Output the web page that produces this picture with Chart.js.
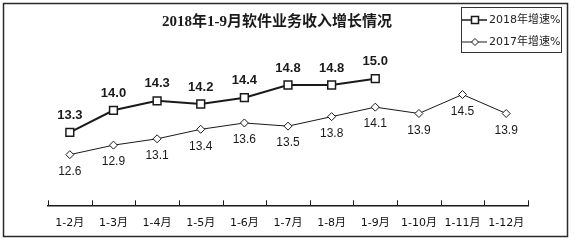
<!DOCTYPE html>
<html>
<head>
<meta charset="utf-8">
<script src="https://cdn.jsdelivr.net/npm/chart.js@4/dist/chart.umd.min.js"></script>
<style>
  html, body { margin: 0; padding: 0; background: #fff; }
  #wrap { position: relative; width: 576px; height: 244px; }
</style>
</head>
<body>
<div id="wrap"><canvas id="c" width="576" height="244"></canvas></div>
<script>
// values
const chartTitle = '2018年1-9月软件业务收入增长情况';
const categories = ['1-2月', '1-3月', '1-4月', '1-5月', '1-6月', '1-7月', '1-8月', '1-9月', '1-10月', '1-11月', '1-12月'];
const seriesNames = ['2018年增速%', '2017年增速%'];
const growth2018 = [13.3, 14.0, 14.3, 14.2, 14.4, 14.8, 14.8, 15.0];
const growth2017 = [12.6, 12.9, 13.1, 13.4, 13.6, 13.5, 13.8, 14.1, 13.9, 14.5, 13.9];
const yRange = [11, 16];

const INK = '#1a1a1a';
const CJK = '"Noto Sans CJK SC"';

// frame, title, legend box, axis tick marks and value labels (Excel look)
const decorPlugin = {
  id: 'decor',
  beforeDraw(chart) {
    const { ctx } = chart;
    ctx.save();
    ctx.fillStyle = '#fff';
    ctx.fillRect(0, 0, chart.width, chart.height);
    ctx.strokeStyle = '#2a2a2a';
    ctx.lineWidth = 1.5;
    ctx.strokeRect(3.5, 3.5, 564, 233);
    ctx.restore();
  },
  afterDraw(chart) {
    const { ctx } = chart;
    const x = chart.scales.x;
    ctx.save();

    // title
    ctx.fillStyle = INK;
    ctx.font = `bold 15px "Liberation Serif", ${CJK}`;
    ctx.textAlign = 'center';
    ctx.textBaseline = 'middle';
    ctx.fillText(chartTitle, 277, 22.5);

    // tick marks point up from the axis, between the categories
    ctx.strokeStyle = INK;
    ctx.lineWidth = 1;
    for (let i = 0; i <= categories.length; i++) {
      const px = Math.round(x.getPixelForValue(i - 0.5)) + 0.5;
      ctx.beginPath();
      ctx.moveTo(px, x.top);
      ctx.lineTo(px, x.top - 5);
      ctx.stroke();
    }

    // value labels: 2018 bold above, 2017 plain below
    ctx.textAlign = 'center';
    ctx.textBaseline = 'middle';
    chart.data.datasets.forEach((ds, di) => {
      const meta = chart.getDatasetMeta(di);
      ctx.font = di === 0 ? 'bold 13px "Liberation Sans"' : '12px "Liberation Sans"';
      ctx.fillStyle = INK;
      meta.data.forEach((pt, i) => {
        const dy = di === 0 ? -17 : 17;
        ctx.fillText(Number(ds.data[i]).toFixed(1), pt.x, pt.y + dy);
      });
    });

    // legend
    ctx.strokeStyle = '#333';
    ctx.lineWidth = 1;
    ctx.strokeRect(461.5, 7.5, 100, 45);
    ctx.font = `11px "DejaVu Sans", ${CJK}`;
    ctx.textAlign = 'left';
    [20, 42].forEach((ly, di) => {
      const ds = chart.data.datasets[di];
      ctx.strokeStyle = INK;
      ctx.lineWidth = di === 0 ? 1.5 : 1;
      ctx.beginPath();
      ctx.moveTo(462, ly);
      ctx.lineTo(487, ly);
      ctx.stroke();
      ctx.fillStyle = '#fff';
      ctx.beginPath();
      if (di === 0) {
        ctx.rect(471.5, ly - 3.5, 7, 7);
      } else {
        ctx.moveTo(475, ly - 3.5);
        ctx.lineTo(478.5, ly);
        ctx.lineTo(475, ly + 3.5);
        ctx.lineTo(471.5, ly);
        ctx.closePath();
      }
      ctx.fill();
      ctx.stroke();
      ctx.fillStyle = '#222';
      ctx.fillText(ds.label, 489, ly + 0.5);
    });
    ctx.restore();
  },
};

new Chart(document.getElementById('c'), {
  type: 'line',
  data: {
    labels: categories,
    datasets: [
      {
        label: seriesNames[0],
        data: growth2018,
        borderColor: INK,
        borderWidth: 2,
        pointStyle: 'rect',
        pointRadius: 5.5,
        pointBorderWidth: 1.5,
        pointBackgroundColor: '#fff',
        pointBorderColor: INK,
        tension: 0,
      },
      {
        label: seriesNames[1],
        data: growth2017,
        borderColor: INK,
        borderWidth: 1,
        pointStyle: 'rectRot',
        pointRadius: 4,
        pointBorderWidth: 1,
        pointBackgroundColor: '#fff',
        pointBorderColor: INK,
        tension: 0,
      },
    ],
  },
  options: {
    responsive: false,
    animation: false,
    devicePixelRatio: 1,
    layout: { padding: { left: 48, right: 48, top: 47, bottom: 3.5 } },
    scales: {
      x: {
        offset: true,
        grid: { display: false, drawTicks: false },
        border: { display: true, color: INK, width: 1.5 },
        ticks: {
          color: '#111',
          font: { family: `"DejaVu Sans", ${CJK}`, size: 11 },
          padding: 11,
          autoSkip: false,
          maxRotation: 0,
        },
      },
      y: { display: false, min: yRange[0], max: yRange[1] },
    },
    plugins: { legend: { display: false }, title: { display: false }, tooltip: { enabled: false } },
  },
  plugins: [decorPlugin],
});
</script>
</body>
</html>
